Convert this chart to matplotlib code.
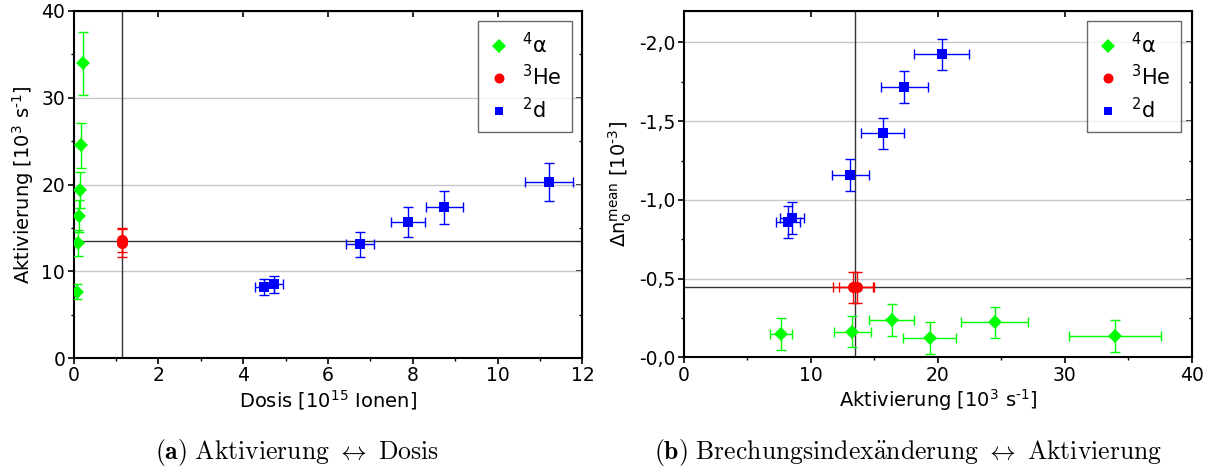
import numpy as np
import matplotlib
matplotlib.use("Agg")
import matplotlib.pyplot as plt
from matplotlib.ticker import MultipleLocator, FuncFormatter

# ---------- DATA ----------
# 4alpha
alpha_dose = [0.075, 0.11, 0.13, 0.15, 0.18, 0.23]
alpha_dose_err = [0.02, 0.02, 0.02, 0.02, 0.02, 0.02]
alpha_act = [7.64, 13.25, 16.36, 19.35, 24.5, 33.95]
alpha_act_err = [0.85, 1.45, 1.8, 2.1, 2.64, 3.6]
alpha_dn = [-0.148, -0.163, -0.237, -0.123, -0.222, -0.135]
alpha_dn_err = [0.1, 0.1, 0.1, 0.1, 0.1, 0.1]

# 3He
he_dose = [1.14, 1.14]
he_dose_err = [0.02, 0.02]
he_act = [13.3, 13.6]
he_act_err = [1.6, 1.4]
he_dn = [-0.445, -0.445]
he_dn_err = [0.1, 0.1]

# 2d
d_dose = [4.50, 4.72, 6.75, 7.88, 8.74, 11.21]
d_dose_err = [0.23, 0.23, 0.33, 0.40, 0.44, 0.56]
d_act = [8.2, 8.5, 13.1, 15.65, 17.35, 20.3]
d_act_err = [0.95, 0.95, 1.45, 1.7, 1.85, 2.15]
d_dn = [-0.861, -0.886, -1.157, -1.422, -1.718, -1.924]
d_dn_err = [0.1, 0.1, 0.1, 0.1, 0.1, 0.1]

# reference lines
left_vline = 1.14
left_hline = 13.5
right_vline = 13.5
right_hline = -0.445

labels = [r"$^4$α", r"$^3$He", r"$^2$d"]
colors = ["#00ff00", "#ff0000", "#0000ff"]
markers = ["D", "o", "s"]
msizes = [7.5, 8, 6.5]

plt.rcParams['font.family'] = ['DejaVu Sans']
plt.rcParams['mathtext.fontset'] = 'dejavusans'

fig = plt.figure(figsize=(12.09, 4.72), dpi=100)
ax1 = fig.add_axes([0.0608, 0.2415, 0.421, 0.7352])
ax2 = fig.add_axes([0.5658, 0.2430, 0.4198, 0.7337])

series_left = [
    (alpha_dose, alpha_act, alpha_dose_err, alpha_act_err),
    (he_dose, he_act, he_dose_err, he_act_err),
    (d_dose, d_act, d_dose_err, d_act_err),
]
series_right = [
    (alpha_act, alpha_dn, alpha_act_err, alpha_dn_err),
    (he_act, he_dn, he_act_err, he_dn_err),
    (d_act, d_dn, d_act_err, d_dn_err),
]


def draw(ax, series):
    handles = []
    for (x, y, xe, ye), c, m, ms, lab in zip(series, colors, markers, msizes, labels):
        ax.errorbar(x, y, xerr=xe, yerr=ye, fmt="none", ecolor=c, elinewidth=1,
                    capsize=3.5, capthick=1, zorder=3)
        h = ax.plot(x, y, linestyle="none", marker=m, color=c, markersize=ms,
                    markeredgewidth=0, zorder=4, label=lab)[0]
        handles.append(h)
    leg = ax.legend(handles=handles, loc="upper right", fontsize=15,
                    frameon=True, fancybox=False, edgecolor="#444444",
                    handlelength=1.0, handletextpad=0.6, borderpad=0.5,
                    labelspacing=0.35, markerscale=0.9)
    leg.get_frame().set_linewidth(1.0)


def style(ax, xminor, yminor):
    ax.grid(axis="y", color="#c8c8c8", linewidth=1, zorder=0)
    ax.set_axisbelow(True)
    ax.xaxis.set_minor_locator(MultipleLocator(xminor))
    ax.yaxis.set_minor_locator(MultipleLocator(yminor))
    ax.tick_params(which="major", direction="out", length=4, width=1.2,
                   labelsize=13.5, pad=2)
    ax.tick_params(which="minor", direction="out", length=2.5, width=1)
    for s in ax.spines.values():
        s.set_linewidth(1.5)
    top = ax.secondary_xaxis("top")
    top.set_xticks(ax.get_xticks())
    top.tick_params(direction="in", length=4, width=1.2, labeltop=False)
    right = ax.secondary_yaxis("right")
    right.set_yticks(ax.get_yticks())
    right.yaxis.set_minor_locator(MultipleLocator(yminor))
    right.tick_params(which="major", direction="in", length=4, width=1.2, labelright=False)
    right.tick_params(which="minor", direction="in", length=2.5, width=1)


# ---------- LEFT: Aktivierung vs Dosis ----------
draw(ax1, series_left)
ax1.axvline(left_vline, color="#333333", linewidth=1, zorder=2)
ax1.axhline(left_hline, color="#333333", linewidth=1, zorder=2)
ax1.set_xlim(0, 12)
ax1.set_ylim(0, 40)
ax1.set_xticks(np.arange(0, 13, 2))
ax1.set_yticks(np.arange(0, 41, 10))
style(ax1, 1, 5)
ax1.set_xlabel(r"Dosis [10$^{15}$ Ionen]", fontsize=14, labelpad=2)
ax1.set_ylabel(r"Aktivierung [10$^3$ s$^{\text{-}1}$]", fontsize=14, labelpad=4)

# ---------- RIGHT: Brechungsindex vs Aktivierung ----------
draw(ax2, series_right)
ax2.axvline(right_vline, color="#333333", linewidth=1, zorder=2)
ax2.axhline(right_hline, color="#333333", linewidth=1, zorder=2)
ax2.set_xlim(0, 40)
ax2.set_ylim(0, -2.2)
ax2.set_xticks(np.arange(0, 41, 10))
ax2.set_yticks([0, -0.5, -1.0, -1.5, -2.0])
ax2.yaxis.set_major_formatter(
    FuncFormatter(lambda v, p: "-" + f"{abs(v):.1f}".replace(".", ",")))
style(ax2, 5, 0.25)
ax2.set_xlabel(r"Aktivierung [10$^3$ s$^{\text{-}1}$]", fontsize=14, labelpad=2)
ax2.set_ylabel(r"$\Delta\mathrm{n}_\mathrm{o}^\mathrm{mean}$ [10$^{\text{-}3}$]",
               fontsize=14, labelpad=4)

# ---------- CAPTIONS ----------
fig.text(0.2455, 0.042,
         r"$\mathbf{(a)}\ \mathrm{Aktivierung}\ \leftrightarrow\ \mathrm{Dosis}$",
         ha="center", va="center", fontsize=18.5, math_fontfamily="cm")
fig.text(0.7515, 0.042,
         r"$\mathbf{(b)}\ \mathrm{Brechungsindex\ddot{a}nderung}\ \leftrightarrow\ \mathrm{Aktivierung}$",
         ha="center", va="center", fontsize=18.5, math_fontfamily="cm")

fig.savefig("out.png", dpi=100)
